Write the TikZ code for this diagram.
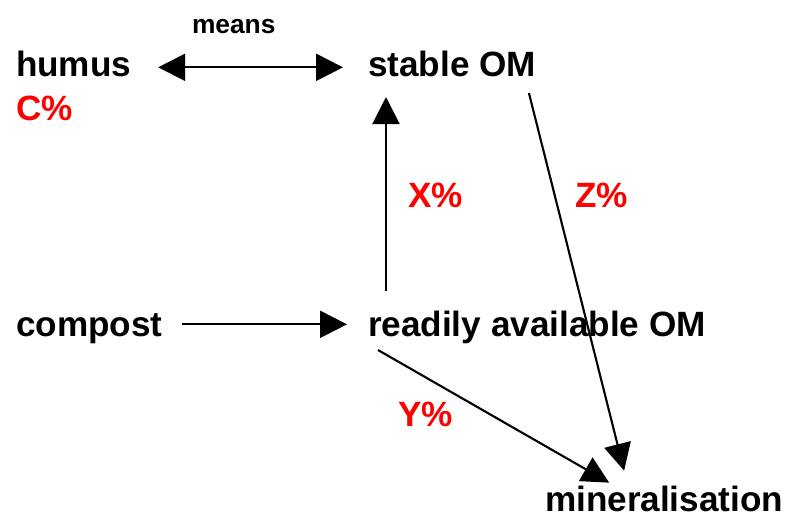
\documentclass[tikz,border=0pt]{standalone}
\usepackage{fontspec}
\setmainfont{Liberation Sans}
\usetikzlibrary{positioning,arrows.meta}
\tikzset{
    term/.style = {
        anchor=base west,
        inner sep=0pt,
        outer sep=0pt,
        text height=15pt,
        text depth=4pt,
        font=\fontsize{20}{24}\selectfont\bfseries
    },
    pct/.style = {
        term,
        text=red
    },
    small/.style = {
        term,
        font=\fontsize{15}{18}\selectfont\bfseries
    },
    flow/.style = {
        draw,
        line width=1.2pt,
        ->
    },
    >={Triangle[length=0.54cm,width=0.54cm]},
}
\begin{document}
\begin{tikzpicture}[x=0.02cm,y=-0.02cm]
                \useasboundingbox (0,0) rectangle (788,516);
                \node[term] (humus) at (16,77) {humus};
                \node[pct] (cpct) at (16,121) {C\%};
                \node[small] (means) at (192,34) {means};
                \node[term] (stable) at (368,77) {stable OM};
                \node[pct] (xpct) at (408,208) {X\%};
                \node[pct] (zpct) at (575,208) {Z\%};
                \node[term] (compost) at (16,337) {compost};
                \node[term] (readily) at (368,337) {readily available OM};
                \node[pct] (ypct) at (398,427) {Y\%};
                \node[term, text depth=0pt] (mineral) at (545,512) {mineralisation};

                \path[flow, <->, shorten <=0.54cm, shorten >=0.5cm] (humus.east) -- (humus.east -| stable.west);
                \path[flow, shorten <=0.4cm, shorten >=0.42cm] ([yshift=0.06cm]compost.east) -- ([yshift=0.06cm]compost.east -| readily.west);
                \path[flow, shorten <=0.4cm, shorten >=0.26cm] ([xshift=0.36cm]readily.north west) -- ([xshift=0.36cm]stable.south west);
                \path[flow] ([shift={(-7,9)}]stable.south east) -- ([shift={(-40,-15)}]mineral.north);
                \path[flow] ([shift={(10,6)}]readily.south west) -- ([shift={(-55,-3)}]mineral.north);
            \end{tikzpicture}
\end{document}
